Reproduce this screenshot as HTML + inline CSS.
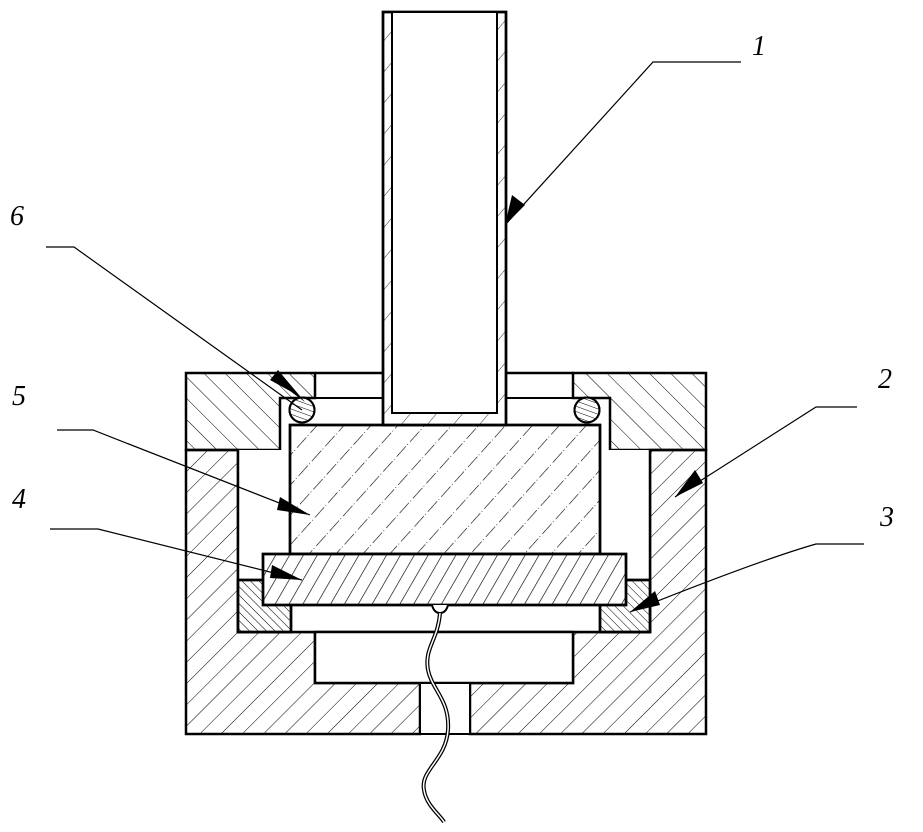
<!DOCTYPE html>
<html><head><meta charset="utf-8"><style>
html,body{margin:0;padding:0;background:#fff;}
svg{display:block;}
text{font-family:"Liberation Serif",serif;font-style:italic;font-size:28px;fill:#000;}
</style></head><body>
<svg width="923" height="832" viewBox="0 0 923 832" xmlns="http://www.w3.org/2000/svg">
<defs>
<pattern id="body" width="15" height="15" patternUnits="userSpaceOnUse" patternTransform="rotate(45)">
<line x1="0" y1="0" x2="0" y2="15" stroke="#000" stroke-width="1"/></pattern>
<pattern id="cap" width="15" height="15" patternUnits="userSpaceOnUse" patternTransform="rotate(-45)">
<line x1="0" y1="0" x2="0" y2="15" stroke="#000" stroke-width="1"/></pattern>
<pattern id="ring" width="6" height="6" patternUnits="userSpaceOnUse" patternTransform="rotate(-45)">
<line x1="0" y1="0" x2="0" y2="6" stroke="#000" stroke-width="1"/></pattern>
<pattern id="disk" width="12" height="12" patternUnits="userSpaceOnUse" patternTransform="rotate(30)">
<line x1="0" y1="0" x2="0" y2="12" stroke="#000" stroke-width="1.3"/></pattern>
<pattern id="oring" width="5" height="5" patternUnits="userSpaceOnUse" patternTransform="rotate(-70)">
<line x1="0" y1="0" x2="0" y2="5" stroke="#000" stroke-width="1"/></pattern>
<pattern id="blk" width="20" height="20" patternUnits="userSpaceOnUse" patternTransform="rotate(42)">
<line x1="0" y1="0" x2="0" y2="20" stroke="#000" stroke-width="1.2" stroke-dasharray="14 3 1 2"/></pattern>
<pattern id="tube" width="20" height="20" patternUnits="userSpaceOnUse" patternTransform="rotate(40)">
<line x1="0" y1="0" x2="0" y2="20" stroke="#000" stroke-width="0.8"/></pattern>
</defs>
<g stroke="#000" stroke-width="2.5" fill="none">
<!-- lower body -->
<path d="M186,450 H238 V632 H315 V683 H420 V734 H186 Z" fill="url(#body)"/>
<path d="M706,450 H650 V632 H573 V683 H470 V734 H706 Z" fill="url(#body)"/>
<!-- caps -->
<path d="M186,373 H315 V398 H280 V450 H186 Z" fill="url(#cap)"/>
<path d="M706,373 H573 V398 H610 V450 H706 Z" fill="url(#cap)"/>
<line x1="315" y1="373" x2="383" y2="373"/><line x1="506" y1="373" x2="573" y2="373"/>
<line x1="290" y1="398" x2="383" y2="398" stroke-width="2"/><line x1="506" y1="398" x2="600" y2="398" stroke-width="2"/>
<!-- cavity -->
<path d="M238,450 V632 H650 V450" fill="#fff"/>
<rect x="315" y="632" width="258" height="51" fill="#fff"/>
<rect x="420" y="683" width="50" height="51" fill="#fff" stroke-width="2"/>
<!-- rings 3 -->
<rect x="238" y="580" width="53" height="52" fill="#fff"/>
<rect x="238" y="580" width="53" height="52" fill="url(#ring)"/>
<rect x="600" y="580" width="50" height="52" fill="#fff"/>
<rect x="600" y="580" width="50" height="52" fill="url(#ring)"/>
<!-- block 5 -->
<rect x="290" y="425" width="310" height="129" fill="#fff"/>
<rect x="290" y="425" width="310" height="129" fill="url(#blk)"/>
<!-- disk 4 -->
<rect x="263" y="554" width="363" height="51" fill="#fff"/>
<rect x="263" y="554" width="363" height="51" fill="url(#disk)"/>
<path d="M432,605 q2,8 8,8 q6,0 8,-8" fill="#fff" stroke-width="2"/>
<!-- o-rings -->
<circle cx="302" cy="410" r="12.5" fill="#fff" stroke-width="2"/>
<circle cx="302" cy="410" r="12.5" fill="url(#oring)" stroke-width="2"/>
<circle cx="587" cy="410" r="12.5" fill="#fff" stroke-width="2"/>
<circle cx="587" cy="410" r="12.5" fill="url(#oring)" stroke-width="2"/>
<!-- tube -->
<path d="M383,12 H506 V425 H383 Z" fill="#fff"/>
<path d="M383,12 H506 V425 H383 Z" fill="url(#tube)"/>
<rect x="392" y="12" width="105" height="401" fill="#fff" stroke-width="2"/>
<!-- wire -->
<path d="M440,613 C438,640 424,648 428,670 C432,690 450,700 448,730 C446,760 420,770 424,790 C426,805 440,815 444,822" stroke-width="4"/>
<path d="M440,613 C438,640 424,648 428,670 C432,690 450,700 448,730 C446,760 420,770 424,790 C426,805 440,815 444,822" stroke="#fff" stroke-width="1.5"/>
</g>
<!-- leaders -->
<g stroke="#000" stroke-width="1.2" fill="none">
<path d="M741,62 H653 L505,225"/>
<path d="M46,247 H74 L302,410"/>
<path d="M57,430 H93 L310,515"/>
<path d="M50,529 H98 L302,580"/>
<path d="M857,407 H816 L675,497"/>
<path d="M864,544 H816 Q760,560 630,612"/>
</g>
<g fill="#000">
<polygon points="505,225 512,195 525,205"/>
<polygon points="290,391 270,380 278,370 305,402"/>
<polygon points="310,515 277,510 280,497"/>
<polygon points="302,580 270,578 272,565"/>
<polygon points="675,497 695,470 703,483"/>
<polygon points="630,612 655,591 660,605"/>
</g>
<text x="752" y="55">1</text>
<text x="878" y="388">2</text>
<text x="880" y="526">3</text>
<text x="12" y="508">4</text>
<text x="12" y="405">5</text>
<text x="10" y="225">6</text>
</svg>
</body></html>
